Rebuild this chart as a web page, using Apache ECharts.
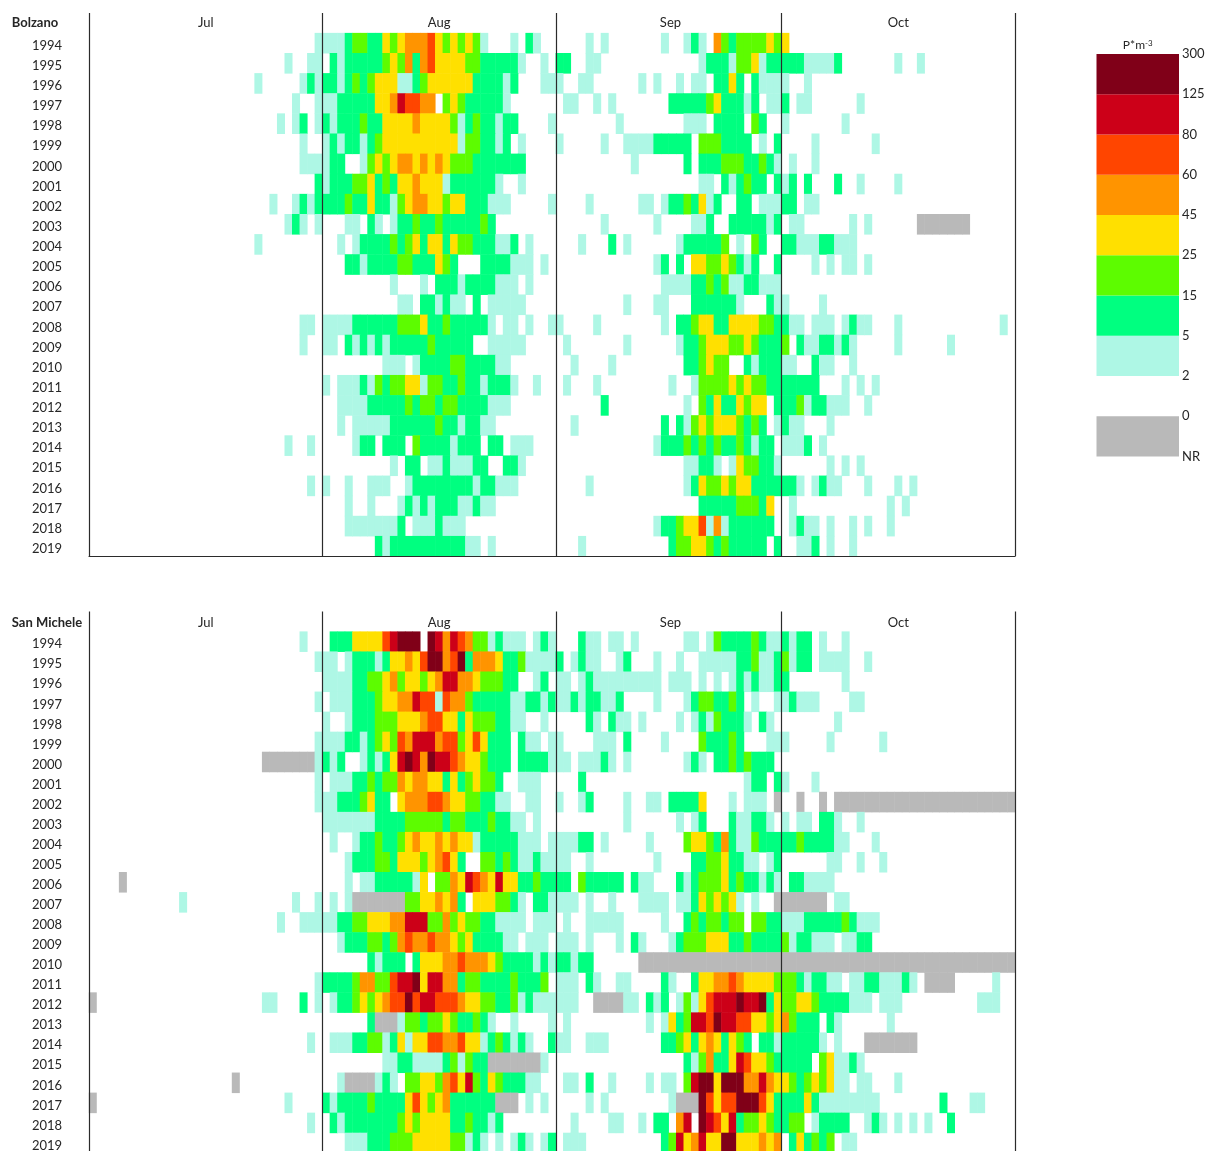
<!DOCTYPE html>
<html><head><meta charset="utf-8">
<style>html,body{margin:0;padding:0;background:#fff;overflow:hidden}#c{width:1213px;height:1151px}</style>
<script src="https://cdn.jsdelivr.net/npm/echarts@6/dist/echarts.min.js"></script>
</head><body><div id="c"></div>
<script>
const years = ['1994','1995','1996','1997','1998','1999','2000','2001','2002','2003','2004','2005','2006','2007','2008','2009','2010','2011','2012','2013','2014','2015','2016','2017','2018','2019'];
const monthNames = ['Jul','Aug','Sep','Oct'];
const monthLengths = [31,31,30,31];
// one character per day: . none, 1-8 abundance class (see legendTicks), N not recorded
const bolzanoJul = ['1','1..11','1.....121','1..1','1.12.1','1..','111','2','1..1212','121.1','1........','','','','11.','1..','','','','','1..1.','','1.','','',''];
const bolzanoAug = [
'1112332243455564343431...1.21',
'.21222223435256444433222221..1.',
'22123234441123444444222212...11',
'112222244576655.343222221',
'21222322444454444312322122....1',
'1212212344444444441332212.1',
'122..1343455454543332222222',
'122233423244544412222221..1',
'2223224221345544344222111.....1',
'...11.21.12232232222232',
'..1.1222232342442433222112.1',
'...221222233222432...2222111.1',
'.........1...1.22212222111.1',
'..........11.221211.2.11111',
'11112222223334223222221.11.1..1',
'11.21212122222322222..11111',
'........111.1222233222211',
'1.111213233441332232212221..1',
'..11112222232332332222111',
'..1.1111122222232212211',
'....122.222.322221222.22.111',
'.........1.22.11211122..221',
'1..1..111..122222222122111',
'...1..1...1212122211211',
'...11111112.1112111',
'.......21222222222211.1'];
const bolzanoSep = [
'....1.1.......1..121.532333343',
'22..11.............12221334122',
'1..11......1.1..1.11.2242.2111',
'.11..1.1.......222223422212.11',
'........1........111.2222.32',
'1.....1..111122222.3332222.1.2',
'..........1......2.22233322321',
'...................11.212322.2',
'....1......11.12232412..22.111',
'......1......1....112..2222212',
'...1...2.1......1222223.1.32',
'.............12.2.443343212..2',
'..............1111223231122111',
'.........1...11...2222221...21',
'1....1........1.22344224444332',
'.1.......1......12234443343222',
'..1....1.........223433..21222',
'.1...1.........1..133334343322',
'......2..........1.324224344.2',
'..1...........2.213434443232.1',
'.............1222323232232122.',
'.................11221.1433221',
'....1............1243343442222',
'...................2222233324.',
'.............1223446151222222.',
'...1...........2334432322222.2'];
const bolzanoOct = [
'4',
'22211112.......1..1',
'1..1',
'2.11......1',
'1.......1',
'....1.......1',
'.1..1',
'12.2...2..1....1',
'22.11',
'.11......1.1......NNNNNNN',
'2211122111',
'....1.1.11.1',
'',
'1....1',
'211.111.1211...1.............1',
'3.21122121.....1......1',
'11..211..1',
'22222...1.1.1',
'223122111..1',
'211...1',
'1112.1',
'......1.1.1',
'221.1211...1...1.1',
'.1............1.1',
'.1211.1..1.1..1',
'..112.1..1'];
const sanMicheleJul = ['1..','1','','1','','1','NNNNNNN1','1','1','','','',
'....N..........................','............1..............1..1','1..111','','','1',
'N......................11...2.1','','1.','','...................N...........','N.........................1....','1.',''];
const sanMicheleAug = [
'.222444467888.8757653312111.121',
'11.1222124454688568255542231111',
'11112233453443457755433322..12.',
'.111222344557661655322222112212',
'1..122233344456644243332211..1.',
'1112212343657775663464222.211.1',
'212..12124787587765443222.22221',
'.11122323354554424234332..111..',
'112223422.455566544332211..11..',
'111111122223333323322232211.1..',
'.1..1223223454454544122222111.1',
'...1222332444345642..3323211211',
'...1.112222214.3354765474422322',
'.1.1NNNNNNN33445452.4443321.221',
'112233444557773353433221111.111',
'..122233235655655434222211.111.',
'......21222.2444556555432222121',
'222235533677847755233222232223.',
'.122343456686776665443322312111',
'......2NNN1332334322321..1....1',
'.111223312414466556441232121..2',
'........11221111231322NNNNNNN1',
'..1NNNN121.334435647324322211',
'21222232222464345222222NNN.1.1',
'.21222222234344442232212',
'...1112223334444433121.1.121.12'];
const sanMicheleSep = [
'...211.11.1......11.1322223211',
'2.1211..12...1..1..11111223112',
'11.12111111111.111.1.1.1212112',
'112122112....1...12332232.1..1',
'....21.211.1....1.12132221.21.',
'1....111.2....1....322232...11',
'11.11121.1.......121.22323222.',
'...2.....................122.2',
'1..12....1..11.22224...1.111.N',
'.........1......1.12...211221.',
'11122.1.....1....3443252113222',
'11..1........1....223342211.12',
'22.322222.211...21233342322121',
'111.1..1...1111.112434341.1..N',
'.1..11111.....1..23233233.3322',
'111.1...1.21...123334442232222',
'22122......NNNNNNNNNNNNNNNNNNN',
'111.21..11....21..244556544443',
'111..NNNN11.212.13146777877824',
'.1..........1.1423776877664434',
'11..111.......223424542432.221',
'.................2135224764432',
'.11.2..1....1.11.3788488855754',
'....1.1........1NNN86466888642',
'..1....11..1.22.57.87647233432',
'.111..........2374574488444545'];
const sanMicheleOct = [
'2122.1..1',
'3122.1111..1',
'2.......1',
'12111....11',
'.......1',
'1.....1......1',
'',
'1...1',
'..N..N.NNNNNNNNNNNNNNNNNNNNNNNN',
'1.11.221..1',
'223222211...1',
'......11..1..1',
'.221111',
'NNNNNN.11',
'1112222232111',
'3122111.1122',
'NNNNNNNNNNNNNNNNNNNNNNNNNNNNNNN',
'33212211.112211121.NNNN.....1',
'334432222111.111..........111',
'53222.21......1',
'222221.1...NNNNNNN',
'2222.341121',
'432343411.11...1',
'2224211111111........2...11',
'233.12222..121.1.1.1..2',
'.242323.11'];
const legendTicks = ['NR','0','2','5','15','25','45','60','80','125','300'];
const legendColors = ['#b9b9b9','rgba(0,0,0,0)','#aef7e5','#00ff80','#5dfc00','#ffe000','#ff9400','#ff4500','#cc0018','#800018'];
const classColors = {1:'#aef7e5',2:'#00ff80',3:'#5dfc00',4:'#ffe000',5:'#ff9400',6:'#ff4500',7:'#cc0018',8:'#800018',9:'#b9b9b9'};
const NR_CLASS = 9;

const FONT = 'Lato, "Open Sans", sans-serif';
const TEXT = '#262626';
const dayCount = monthLengths.reduce((a,b)=>a+b,0);
const monthStarts = monthLengths.map((_,i)=>monthLengths.slice(0,i).reduce((a,b)=>a+b,0));
const dayCategories = Array.from({length:dayCount},()=>'');
monthNames.forEach((m,i)=>{
  const d = monthStarts[i]+Math.floor(monthLengths[i]/2);
  dayCategories[d] = m==='Sep' ? {value:m,textStyle:{padding:[0,4,0,0]}} : m;
});

function cells(jul,aug,sep,oct){
  const out=[];
  years.forEach((y,r)=>{
    const row = jul[r].padStart(31,'.')+aug[r].padEnd(31,'.')+sep[r].padEnd(30,'.')+oct[r].padEnd(31,'.');
    for(let c=0;c<dayCount;c++){
      const ch=row[c];
      if(ch==='.') continue;
      out.push([c,y,ch==='N'?NR_CLASS:Number(ch)]);
    }
  });
  return out;
}
function xTop(gridIndex,labelMargin){
  return {type:'category',gridIndex,position:'top',data:dayCategories,z:5,
    axisLine:{show:false},axisTick:{show:false},
    axisLabel:{interval:0,margin:labelMargin,fontFamily:FONT,fontSize:13,color:TEXT,hideOverlap:false},
    splitLine:{show:true,interval:(i)=>monthStarts.includes(i),lineStyle:{color:'#2b2b2b',width:1.2}}};
}
function yAxis(gridIndex,station,headerPad){
  return {type:'category',gridIndex,inverse:true,
    data:[station,...years],
    axisLine:{show:false},axisTick:{show:false},splitLine:{show:false},
    axisLabel:{interval:0,margin:42,align:'center',fontFamily:FONT,fontSize:13,color:TEXT,
      formatter:(v,i)=>i===0?`{h|${v}}`:`{y|${v}}`,
      rich:{
        h:{fontFamily:FONT,fontSize:13,color:TEXT,fontWeight:'bold',padding:headerPad},
        y:{fontFamily:FONT,fontSize:13,color:TEXT,padding:[5,0,0,0]}
      }}};
}
const chart = echarts.init(document.getElementById('c'),null,{renderer:'canvas'});
chart.setOption({
  animation:false,backgroundColor:'#fff',
  grid:[
    {left:89,top:13,width:926,height:543.3,outerBoundsMode:'none',containLabel:false},
    {left:89,top:611.6,width:926,height:541.4,outerBoundsMode:'none',containLabel:false},
    {left:1096.5,top:54,width:82.5,height:402.5,outerBoundsMode:'none',containLabel:false}
  ],
  xAxis:[
    xTop(0,-16),xTop(1,-18),
    {type:'category',gridIndex:0,position:'bottom',data:dayCategories,z:5,
      axisLine:{show:true,lineStyle:{color:'#2b2b2b',width:1.2}},axisTick:{show:false},axisLabel:{show:false},splitLine:{show:false}},
    {type:'category',gridIndex:2,position:'top',data:['P*m{sup|-3}'],
      axisLine:{show:false},axisTick:{show:false},
      axisLabel:{margin:3,fontFamily:FONT,fontSize:12,color:TEXT,formatter:(v)=>v,rich:{sup:{fontSize:8,verticalAlign:'top',padding:[0,0,4,0],fontFamily:FONT,color:TEXT}}}}
  ],
  yAxis:[
    yAxis(0,'Bolzano',[0,24,0,0]),
    yAxis(1,'San Michele',[3,0,0,0]),
    {type:'value',gridIndex:2,position:'right',min:0,max:legendTicks.length-1,interval:1,
      axisLine:{show:false},axisTick:{show:false},splitLine:{show:false},
      axisLabel:{margin:3,fontFamily:FONT,fontSize:13,color:TEXT,showMinLabel:true,showMaxLabel:true,formatter:(v)=>legendTicks[v]}}
  ],
  visualMap:{type:'piecewise',show:false,seriesIndex:[0,1],dimension:2,
    pieces:Object.keys(classColors).map(k=>({value:Number(k),color:classColors[k]}))},
  series:[
    {type:'heatmap',name:'Bolzano',xAxisIndex:0,yAxisIndex:0,data:cells(bolzanoJul,bolzanoAug,bolzanoSep,bolzanoOct),itemStyle:{borderWidth:0},emphasis:{disabled:true}},
    {type:'heatmap',name:'San Michele',xAxisIndex:1,yAxisIndex:1,data:cells(sanMicheleJul,sanMicheleAug,sanMicheleSep,sanMicheleOct),itemStyle:{borderWidth:0},emphasis:{disabled:true}},
    ...legendColors.map((color,i)=>({type:'bar',name:legendTicks[i],stack:'legend',xAxisIndex:3,yAxisIndex:2,barWidth:'100%',data:[1],itemStyle:{color},silent:true}))
  ]
});
</script></body></html>
